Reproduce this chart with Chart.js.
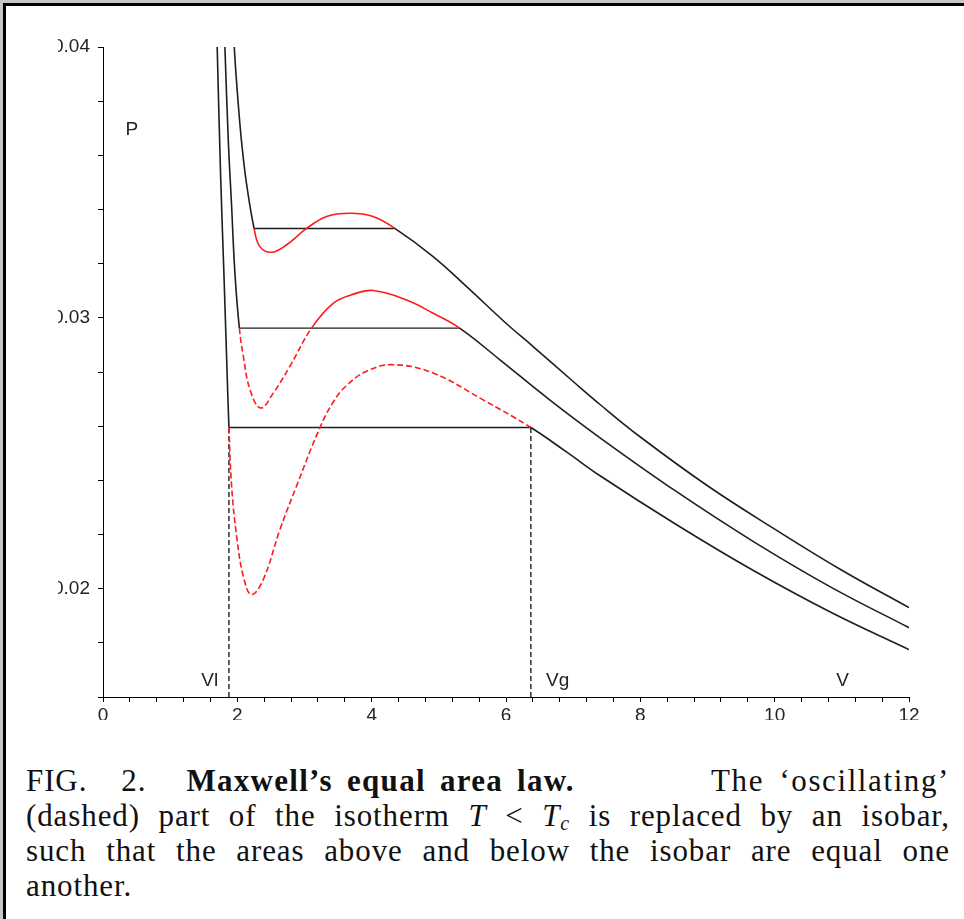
<!DOCTYPE html>
<html>
<head>
<meta charset="utf-8">
<script src="https://cdn.jsdelivr.net/npm/chart.js@4.4.1/dist/chart.umd.min.js"></script>
<style>
  html, body { margin: 0; padding: 0; }
  body { width: 964px; height: 919px; background: #c6c6c6; position: relative; overflow: hidden; }
  #frame { position: absolute; left: 3px; top: 3px; width: 980px; height: 940px;
           background: #fff; border-left: 3px solid #000; border-top: 3px solid #000; }
  #plot { position: absolute; left: 58px; top: 30px; width: 880px; height: 690px; }
  #caption { position: absolute; left: 26px; top: 763px; width: 924px;
             font-family: "Liberation Serif", "Times New Roman", serif; font-size: 31px;
             letter-spacing: 0.9px; line-height: 35px; color: #111; }
  #caption .ln { text-align: justify; text-align-last: justify; white-space: nowrap; height: 35px; }
  #caption .first { display: flex; white-space: nowrap; }
  #caption .first .fig2 { margin-left: 34px; }
  #caption .first b { margin-left: 40px; letter-spacing: 1.3px; word-spacing: 5px; }
  #caption .first .tail { margin-left: auto; letter-spacing: 1.6px; word-spacing: 6px; }
  #caption .last { text-align: left; text-align-last: left; }
  #caption sub { font-size: 20px; line-height: 0; vertical-align: -0.2em; }
</style>
</head>
<body>
<div id="frame"></div>
<div id="plot"><canvas id="maxwellChart"></canvas></div>
<div id="caption">
  <div class="ln first"><span>FIG.</span><span class="fig2">2.</span><b>Maxwell’s equal area law.</b><span class="tail">The ‘oscillating’</span></div>
  <div class="ln">(dashed) part of the isotherm <i>T</i> &lt; <i>T<sub>c</sub></i> is replaced by an isobar,</div>
  <div class="ln">such that the areas above and below the isobar are equal one</div>
  <div class="ln last">another.</div>
</div>
<script>
// isothermes (V, P)
const t1V = [1.70, 1.75, 1.80, 1.84, 1.875, 1.915, 1.99, 2.09, 2.21, 2.385, 2.634, 2.88, 3.23, 3.43, 3.626, 3.924, 4.32, 4.915, 5.66, 6.37, 6.9, 7.4, 8.54, 9.69, 10.85, 12];
const t1P = [0.0400, 0.03534, 0.03165, 0.02857, 0.02595, 0.02378, 0.02193, 0.02045, 0.01978, 0.02033, 0.02218, 0.02378, 0.02595, 0.0269, 0.0275, 0.02803, 0.02827, 0.02796, 0.02697, 0.02595, 0.02505, 0.02417, 0.02236, 0.02066, 0.01911, 0.01775];

const t2V = [1.815, 1.865, 1.915, 1.964, 2.03, 2.09, 2.19, 2.347, 2.535, 2.78, 3.105, 3.43, 3.7, 4.02, 4.52, 4.915, 5.31, 5.91, 6.65, 7.4, 8.54, 9.69, 10.85, 12];
const t2P = [0.0400, 0.03657, 0.03411, 0.03165, 0.02962, 0.02857, 0.02734, 0.02667, 0.02722, 0.0282, 0.02962, 0.03054, 0.03085, 0.03101, 0.03066, 0.03017, 0.02962, 0.02845, 0.02697, 0.02557, 0.02358, 0.02173, 0.02004, 0.01856];

const t3V = [1.954, 1.98, 2.04, 2.08, 2.14, 2.25, 2.336, 2.51, 2.73, 3.03, 3.33, 3.675, 4.02, 4.345, 4.915, 5.41, 6.0, 6.4, 7.0, 7.4, 8.0, 9.0, 10.0, 11.0, 12];
const t3P = [0.0400, 0.0390, 0.0371, 0.0361, 0.0349, 0.0333, 0.03263, 0.03242, 0.03269, 0.0333, 0.03374, 0.03386, 0.03374, 0.0333, 0.03226, 0.03116, 0.0298, 0.02895, 0.02765, 0.0268, 0.0256, 0.0238, 0.0222, 0.02068, 0.0193];

// isobares de Maxwell : pression, volume liquide, volume gaz
const isobarP = [0.02595, 0.02962, 0.0333];
const vLiquid = [1.875, 2.03, 2.25];
const vGas = [6.37, 5.31, 4.345];
// partie pointillée : 'all' = toute l'oscillation, 'below' = sous l'isobare
const dashMode = ['all', 'below', 'none'];

const xTicksMajor = [0, 2, 4, 6, 8, 10, 12];
const yTicksMajor = [0.02, 0.03, 0.04];

const BLACK = '#1e1e1e';
const RED = '#ff1a1a';

function pts(vs, ps) {
    return vs.map((v, i) => ({ x: v, y: ps[i] }));
}

function isothermDataset(vs, ps, k) {
    const eps = 1e-6;
    const inLoop = ctx => ctx.p0.parsed.x >= vLiquid[k] - eps && ctx.p1.parsed.x <= vGas[k] + eps;
    return {
        data: pts(vs, ps),
        showLine: true,
        borderColor: BLACK,
        borderWidth: 1.6,
        pointRadius: 0,
        tension: 0.4,
        segment: {
            borderColor: ctx => inLoop(ctx) ? RED : BLACK,
            borderDash: ctx => {
                if (!inLoop(ctx)) return [];
                if (dashMode[k] === 'all') return [6, 3];
                if (dashMode[k] === 'below' && Math.max(ctx.p0.parsed.y, ctx.p1.parsed.y) <= isobarP[k] + eps) return [6, 3];
                return [];
            }
        }
    };
}

function lineDataset(points, dash) {
    return {
        data: points,
        showLine: true,
        borderColor: BLACK,
        borderWidth: 1.4,
        borderDash: dash,
        pointRadius: 0,
        tension: 0
    };
}

// étiquettes P, Vl, Vg, V
const textLabels = {
    id: 'textLabels',
    afterDraw(chart) {
        const c = chart.ctx, xs = chart.scales.x, ys = chart.scales.y;
        c.save();
        c.fillStyle = '#222';
        c.font = '19px "Liberation Sans", Arial, sans-serif';
        c.textAlign = 'center';
        c.textBaseline = 'middle';
        c.fillText('P', xs.getPixelForValue(0.43), ys.getPixelForValue(0.03694));
        c.fillText('Vl', xs.getPixelForValue(1.59), ys.getPixelForValue(0.0166));
        c.fillText('Vg', xs.getPixelForValue(6.77), ys.getPixelForValue(0.0166));
        c.fillText('V', xs.getPixelForValue(11.01), ys.getPixelForValue(0.0166));
        c.restore();
    }
};

document.addEventListener('DOMContentLoaded', function() {
    const ctx = document.getElementById('maxwellChart').getContext('2d');

    const datasets = [
        isothermDataset(t1V, t1P, 0),
        isothermDataset(t2V, t2P, 1),
        isothermDataset(t3V, t3P, 2)
    ];
    for (let k = 0; k < 3; k++) {
        datasets.push(lineDataset([{ x: vLiquid[k], y: isobarP[k] }, { x: vGas[k], y: isobarP[k] }], []));
    }
    // verticales Vl et Vg
    datasets.push(lineDataset([{ x: vLiquid[0], y: 0.016 }, { x: vLiquid[0], y: isobarP[0] }], [5, 3]));
    datasets.push(lineDataset([{ x: vGas[0], y: 0.016 }, { x: vGas[0], y: isobarP[0] }], [5, 3]));

    new Chart(ctx, {
        type: 'scatter',
        data: { datasets: datasets },
        plugins: [textLabels],
        options: {
            responsive: true,
            maintainAspectRatio: false,
            animation: false,
            layout: { padding: { top: 17, right: 29, bottom: 0, left: 0 } },
            plugins: {
                legend: { display: false },
                tooltip: { enabled: false }
            },
            scales: {
                x: {
                    type: 'linear',
                    min: 0,
                    max: 12,
                    border: { display: true, color: '#000', width: 1 },
                    grid: { display: true, drawOnChartArea: false, drawTicks: true, tickLength: 5, color: '#000' },
                    ticks: {
                        stepSize: 0.4,
                        autoSkip: false,
                        maxRotation: 0,
                        padding: 2,
                        color: '#222',
                        font: { family: '"Liberation Sans", Arial, sans-serif', size: 19 },
                        callback: v => xTicksMajor.some(t => Math.abs(t - v) < 1e-6) ? String(Math.round(v)) : ''
                    },
                    afterFit: s => { s.height = 23; s.paddingLeft = 0; s.paddingRight = 0; }
                },
                y: {
                    type: 'linear',
                    min: 0.016,
                    max: 0.04,
                    border: { display: true, color: '#000', width: 1 },
                    grid: { display: true, drawOnChartArea: false, drawTicks: true, tickLength: 5, color: '#000' },
                    ticks: {
                        stepSize: 0.002,
                        autoSkip: false,
                        padding: 8,
                        color: '#222',
                        font: { family: '"Liberation Sans", Arial, sans-serif', size: 19 },
                        callback: v => yTicksMajor.some(t => Math.abs(t - v) < 1e-7) ? v.toFixed(2) : ''
                    },
                    afterFit: s => { s.width = 45; s.paddingTop = 0; s.paddingBottom = 0; }
                }
            }
        }
    });
});
</script>
</body>
</html>
